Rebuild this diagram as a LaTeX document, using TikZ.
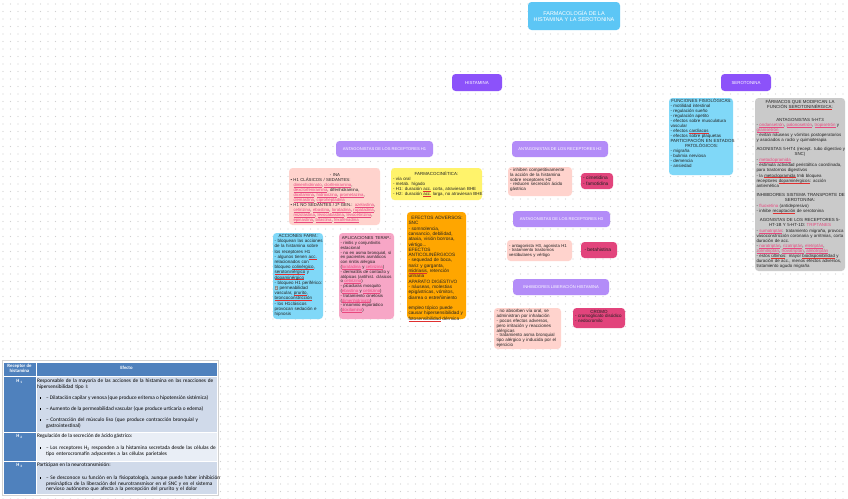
\documentclass[tikz,border=0pt]{standalone}
\usepackage{fontspec}
\setmainfont{Liberation Sans}
\newfontfamily\tabfont{Carlito}
\newfontfamily\djv{DejaVu Sans}
\definecolor{dotc}{HTML}{CFCFCF}
\definecolor{titleb}{HTML}{5CC6F5}
\definecolor{purp}{HTML}{8C52FA}
\definecolor{lav}{HTML}{B38CF8}
\definecolor{salm}{HTML}{FFD3CD}
\definecolor{yel}{HTML}{FFF36B}
\definecolor{ora}{HTML}{FFA600}
\definecolor{cya}{HTML}{80D8F8}
\definecolor{pnk}{HTML}{F7A6C6}
\definecolor{mag}{HTML}{E2447C}
\definecolor{gry}{HTML}{CACACA}
\definecolor{drugc}{HTML}{E8487E}
\definecolor{sqc}{HTML}{E03030}
\definecolor{txt}{HTML}{222222}
\definecolor{tblue}{HTML}{4F81BD}
\definecolor{tla}{HTML}{D0DAEA}
\definecolor{tlb}{HTML}{E9EEF6}
\definecolor{arrg}{HTML}{8A8A8A}
\newcommand\myl[1]{\mbox{#1}\par}
\newcommand\myc[1]{{\centering\mbox{#1}\par}}
\newcommand\myg[1]{\vspace{#1pt}}
\newcommand\ulc[2]{{\setbox0\hbox{#2}\leavevmode\rlap{\smash{\textcolor{#1}{\rule[-0.75pt]{\wd0}{0.28pt}}}}\box0}}
\newcommand\drug[1]{\textcolor{drugc}{\ulc{drugc}{#1}}}
\newcommand\dtx[1]{\textcolor{drugc}{#1}}
\newcommand\sq[1]{\ulc{sqc}{#1}}
\newcommand\fs[2]{\fontsize{#1}{#2}\selectfont}
\newcommand\darr{\smash{{\setlength\fboxsep{0.35pt}\colorbox{arrg}{\textcolor{white}{\djv\fontsize{3.6}{4}\selectfont ↓}}}}}
\tikzset{
  bx/.style={rectangle, rounded corners=3.5pt, inner sep=0pt, outer sep=0pt, anchor=north west, draw=none},
  hd/.style={bx, text=white, font=\fs{4.1}{5}, align=center},
  tx/.style={anchor=base west, inner sep=0pt, outer sep=0pt, align=left, text=txt},
  cell/.style={rectangle, inner sep=0pt, outer sep=0pt, anchor=north west, draw=white, line width=0.7pt},
  tt/.style={anchor=base west, inner sep=0pt, outer sep=0pt, align=left, text=black, font=\tabfont\fs{5.3}{6}},
  blt/.style={rectangle, fill=black, minimum size=1.3pt, inner sep=0pt, outer sep=0pt},
  dotrow/.style={dotc, line width=1.1pt, line cap=round, dash pattern=on 0pt off 7.5pt},
}
\begin{document}
\begin{tikzpicture}[x=1pt,y=-1pt]
\useasboundingbox (0,0) rectangle (848,498);
\fill[white] (0,0) rectangle (848,498);
% dot grid
\foreach \j in {0,...,66}{\draw[dotrow] (3,4+7.5*\j) -- (848,4+7.5*\j);}

% title and main headers
\node[bx, fill=titleb, minimum width=92pt, minimum height=28pt] (title) at (528,2) {};
\node[text=white, font=\fs{5.5}{6.6}, align=center, inner sep=0pt] (titlet) at (title.center) {FARMACOLOGÍA DE LA\\HISTAMINA Y LA SEROTONINA};
\node[hd, fill=purp, font=\fs{4.4}{5}, minimum width=50pt, minimum height=17pt] (hist) at (452,74) {HISTAMINA};
\node[hd, fill=purp, font=\fs{4.4}{5}, minimum width=50pt, minimum height=17pt] (sero) at (721,74) {SEROTONINA};

% sub headers
\node[hd, fill=lav, minimum width=97pt, minimum height=16pt] (hH1) at (336,141) {ANTAGONISTAS DE LOS RECEPTORES H1};
\node[hd, fill=lav, minimum width=96pt, minimum height=16pt] (hH2) at (512,141) {ANTAGONISTAS DE LOS RECEPTORES H2};
\node[hd, fill=lav, minimum width=97pt, minimum height=16pt] (hH3) at (513,211) {ANTAGONISTAS DE LOS RECEPTORES H3};
\node[hd, fill=lav, minimum width=96pt, minimum height=16pt] (hIN) at (513,279) {INHIBIDORES LIBERACIÓN HISTAMINA};

% INA box
\node[bx, fill=salm, minimum width=91pt, minimum height=57pt] (ina) at (289,168) {};
\node[tx, text width=89pt, font=\fs{4.3}{5}] (inat) at (290.5,176.3) {%
\myc{- INA}
\myl{• H1 CLÁSICOS / SEDANTES:}
\myl{\hspace*{3pt}\drug{dimenhidrinato}, \drug{clorfeniramina},}
\myl{\hspace*{3pt}\drug{dexclorfeniramina}, difenhidramina,}
\myl{\hspace*{3pt}\drug{doxilamina}, \drug{hidroxizina}, \drug{prometazina},}
\myl{\hspace*{3pt}\drug{clemastina}, \drug{ciproheptadina}}
\myl{• H1 NO SEDANTES / 2ª GEN.: \drug{azelastina},}
\myl{\hspace*{3pt}\drug{cetirizina}, \drug{ebastina}, \drug{loratadina}, \drug{rupatadina},}
\myl{\hspace*{3pt}\drug{mizolastina}, \drug{levocabastina}, \drug{levocetirizina},}
\myl{\hspace*{3pt}\drug{epinastina}, \drug{bilastina}, \drug{fexofenadina}}};

% Farmacocinetica
\node[bx, fill=yel, minimum width=91pt, minimum height=32pt] (farm) at (391,168) {};
\node[tx, text width=87pt, font=\fs{4.4}{5}] (farmt) at (393,175.6) {%
\myc{FARMACOCINÉTICA:}
\myl{- vía oral}
\myl{- metab. hígado}
\myl{- H1: duración \sq{acc.} corta, atraviesan BHE}
\myl{- H2: duración \sq{acc.} larga, no atraviesan BHE}};

% Efectos adversos
\node[bx, fill=ora, minimum width=59pt, minimum height=107pt] (efe) at (407,212) {};
\node[tx, text width=57pt, font=\fs{4.7}{5.3}] (efet) at (408.5,219.5) {%
\myc{EFECTOS ADVERSOS:}
\myl{SNC}
\myl{- somnolencia,}
\myl{cansancio, debilidad,}
\myl{ataxia, visión borrosa,}
\myl{vértigo...}
\myl{EFECTOS}
\myl{ANTICOLINÉRGICOS}
\myl{- sequedad de boca,}
\myl{nariz y garganta,}
\myl{\sq{midriasis}, retención}
\myl{urinaria}
\myl{APARATO DIGESTIVO}
\myl{- náuseas, molestias}
\myl{epigástricas, vómitos,}
\myl{diarrea o estreñimiento}
\myl{}
\myl{empleo tópico puede}
\myl{causar hipersensibilidad y}
\myl{\sq{fotosensibilidad} dérmica}};

% Acciones farm
\node[bx, fill=cya, minimum width=50pt, minimum height=86pt] (acc) at (273,233) {};
\node[tx, text width=48pt, font=\fs{4.5}{5.2}] (acct) at (274.5,237.4) {%
\myc{ACCIONES FARM.:}
\myl{- bloquean las acciones}
\myl{de la histamina sobre}
\myl{los receptores H1}
\myl{- algunos tienen \sq{acc.}}
\myl{relacionados con}
\myl{bloqueo \sq{colinérgico},}
\myl{\sq{serotoninérgico} y}
\myl{\sq{dopaminérgico}}
\myl{- bloqueo H1 periférico:}
\myl{\darr\ permeabilidad}
\myl{vascular, \sq{prurito},}
\myl{\sq{broncoconstricción}}
\myl{- los H1clásicos}
\myl{provocan sedación e}
\myl{hipnosis}};

% Aplicaciones terap
\node[bx, fill=pnk, minimum width=55pt, minimum height=86pt] (apl) at (339,233) {};
\node[tx, text width=52pt, font=\fs{4.3}{4.8}] (aplt) at (340.5,239.6) {%
\myc{APLICACIONES TERAP.:}
\myl{- rinitis y conjuntivitis}
\myl{estacional}
\myl{- no en asma bronquial, sí}
\myl{en pacientes asmáticos}
\myl{con rinitis alérgica}
\myl{(\drug{loratadina} y \drug{cetirizina})}
\myl{- dermatitis de contacto y}
\myl{atópicas (antihist. clásicos}
\myl{o \drug{cetirizina})}
\myl{- picaduras mosquito}
\myl{(\drug{ebastina} y \drug{cetirizina})}
\myl{- tratamiento cinetosis}
\myl{(\drug{dimenhidrinato})}
\myl{- insomnio esporádico}
\myl{(\drug{doxilamina})}};

% H2 branch
\node[bx, fill=salm, minimum width=64pt, minimum height=29pt] (h2b) at (508,167) {};
\node[tx, text width=62pt, font=\fs{4.5}{4.8}] (h2t) at (510,171.4) {%
\myl{- inhiben competitivamente}
\myl{la acción de la histamina}
\myl{sobre receptores H2}
\myl{- reducen secreción ácido}
\myl{gástrica}};
\node[bx, fill=mag, minimum width=32pt, minimum height=16pt] (cim) at (581,173) {};
\node[tx, text width=30pt, font=\fs{4.8}{5.7}] (cimt) at (583,179.8) {%
\myl{- cimetidina}
\myl{- famotidina}};

% H3 branch
\node[bx, fill=salm, minimum width=65pt, minimum height=21pt] (h3b) at (507,240) {};
\node[tx, text width=63pt, font=\fs{4.3}{4.7}] (h3t) at (509,247) {%
\myl{- antagonista H3, agonista H1}
\myl{- tratamiento trastornos}
\myl{vestibulares y vértigo}};
\node[bx, fill=mag, minimum width=36pt, minimum height=16pt] (beta) at (581,242) {};
\node[tx, font=\fs{4.9}{5.5}] (betat) at (584.5,251.5) {- betahistina};

% Inhibidores branch
\node[bx, fill=salm, minimum width=67pt, minimum height=41pt] (inb) at (494,308) {};
\node[tx, text width=64pt, font=\fs{4.5}{4.9}] (inbt) at (496.5,312.4) {%
\myl{- no absorben vía oral, se}
\myl{administran por inhalación}
\myl{- pocos efectos adversos,}
\myl{pero irritación y reacciones}
\myl{alérgicas}
\myl{- tratamiento asma bronquial}
\myl{tipo alérgico y inducida por el}
\myl{ejercicio}};
\node[bx, fill=mag, minimum width=52pt, minimum height=20pt] (cro) at (573,308) {};
\node[tx, text width=48pt, font=\fs{4.5}{4.8}] (crot) at (575,313.1) {%
\myc{CROMO}
\myl{- cromoglicato disódico}
\myl{- nedocromilo}};

% Serotonina: funciones
\node[bx, fill=cya, minimum width=64pt, minimum height=77pt] (fun) at (669,98) {};
\node[tx, text width=62pt, font=\fs{4.45}{5}] (funt) at (670.5,102.4) {%
\myc{FUNCIONES FISIOLÓGICAS:}
\myl{- motilidad intestinal}
\myl{- regulación sueño}
\myl{- regulación apetito}
\myl{- efectos sobre musculatura}
\myl{vascular}
\myl{- efectos \sq{cardíacos}}
\myl{- efectos sobre plaquetas}
\myc{PARTICIPACIÓN EN ESTADOS}
\myc{PATOLÓGICOS:}
\myl{- migraña}
\myl{- bulimia nerviosa}
\myl{- demencia}
\myl{- ansiedad}};

% Serotonina: farmacos
\node[bx, fill=gry, minimum width=90pt, minimum height=173pt] (frm) at (755,98) {};
\node[tx, text width=87pt, font=\fs{4.4}{5.05}] (frmt) at (756.5,103.4) {%
\myc{FÁRMACOS QUE MODIFICAN LA}
\myc{FUNCIÓN \sq{SEROTONINÉRGICA}:}
\myg{8}
\myc{ANTAGONISTAS 5-HT3}
\myl{- \drug{ondansetrón}, \drug{palonosetrón}, \drug{tropisetrón} y}
\myl{\drug{granisetrón}}
\myl{- evitan náuseas y vómitos postoperatorios}
\myl{y asociados a radio y quimioterapia}
\myg{4}
\myc{AGONISTAS 5-HT4 (recept. tubo digestivo y}
\myc{SNC)}
\myg{1}
\myl{- \drug{metoclopramida}}
\myl{- estimula actividad peristáltica coordinada,}
\myl{para trastornos digestivos}
\myl{- la \sq{metoclopramida} tmb bloquea}
\myl{receptores \sq{dopaminérgicos}: acción}
\myl{antiemética}
\myg{4}
\myc{INHIBIDORES SISTEMA TRANSPORTE DE}
\myc{SEROTONINA:}
\myg{1}
\myl{- \dtx{fluoxetina} (antidepresivo)}
\myl{- inhibe \sq{recaptación} de serotonina}
\myg{4}
\myc{AGONISTAS DE LOS RECEPTORES 5-}
\myc{HT-1B Y 5-HT-1D: \dtx{TRIPTANES}}
\myg{1}
\myl{- \drug{sumatriptán}: tratamiento migraña, provoca}
\myl{vasoconstricción coronaria y arritmias, corta}
\myl{duración de acc.}
\myl{- \drug{naratriptán}, \drug{rizatriptán}, \drug{eletriptán},}
\myl{\drug{zolmitriptán}, \drug{frovatriptán}, \drug{almotriptán}}
\myl{- estos \sq{últimos}: mayor \sq{biodisponibilidad} y}
\myl{duración de acc., menos efectos adversos,}
\myl{tratamiento agudo migraña}};

% ---------- table ----------
\draw[gray!35, line width=0.4pt] (2,360.5) rectangle (218,495.5);
\node[cell, fill=tblue, minimum width=33pt, minimum height=14.5pt] (c00) at (3,362) {};
\node[cell, fill=tblue, minimum width=181pt, minimum height=14.5pt] (c01) at (36,362) {};
\node[cell, fill=tblue, minimum width=33pt, minimum height=55.5pt] (c10) at (3,376.5) {};
\node[cell, fill=tla, minimum width=181pt, minimum height=55.5pt] (c11) at (36,376.5) {};
\node[cell, fill=tblue, minimum width=33pt, minimum height=29pt] (c20) at (3,432) {};
\node[cell, fill=tlb, minimum width=181pt, minimum height=29pt] (c21) at (36,432) {};
\node[cell, fill=tblue, minimum width=33pt, minimum height=33pt] (c30) at (3,461) {};
\node[cell, fill=tla, minimum width=181pt, minimum height=33pt] (c31) at (36,461) {};

\node[text=white, font=\tabfont\bfseries\fs{4.8}{5.2}, align=center, inner sep=0pt] (th1) at (19.5,368.6) {Receptor de\\histamina};
\node[text=white, font=\tabfont\bfseries\fs{4.8}{5.2}, inner sep=0pt] (th2) at (126.5,367.5) {Efecto};
\node[text=white, font=\tabfont\bfseries\fs{4.8}{5.2}, inner sep=0pt] (hr1) at (19.5,381) {H \textsubscript{1}};
\node[text=white, font=\tabfont\bfseries\fs{4.8}{5.2}, inner sep=0pt] (hr2) at (19.5,436) {H \textsubscript{2}};
\node[text=white, font=\tabfont\bfseries\fs{4.8}{5.2}, inner sep=0pt] (hr3) at (19.5,465) {H \textsubscript{3}};

\node[tt, text width=179pt] (t1a) at (37,382.5) {%
\myl{Responsable de la mayoría de las acciones de la histamina en las reacciones de}
\myl{hipersensibilidad tipo I:}};
\node[blt] (b1) at (40.5,398) {};
\node[tt] (t1b) at (46,399.6) {– Dilatación capilar y venosa (que produce eritema o hipotensión sistémica)};
\node[blt] (b2) at (40.5,409) {};
\node[tt] (t1c) at (46,410.6) {– Aumento de la permeabilidad vascular (que produce urticaria o edema)};
\node[blt] (b3) at (40.5,420) {};
\node[tt, text width=170pt] (t1d) at (46,421.6) {%
\myl{– Contracción del músculo liso (que produce contracción bronquial y}
\myl{gastrointestinal)}};

\node[tt] (t2a) at (37,437.6) {Regulación de la secreción de ácido gástrico:};
\node[blt] (b4) at (40.5,448) {};
\node[tt, text width=170pt] (t2b) at (46,449.6) {%
\myl{– Los receptores H\textsubscript{2} responden a la histamina secretada desde las células de}
\myl{tipo enterocromafín adyacentes a las células parietales}};

\node[tt] (t3a) at (37,466.6) {Participan en la neurotransmisión:};
\node[blt] (b5) at (40.5,478) {};
\node[tt, text width=170pt, font=\tabfont\fs{5.3}{5.6}] (t3b) at (46,479.6) {%
\myl{– Se desconoce su función en la fisiopatología, aunque puede haber inhibición}
\myl{presináptica de la liberación del neurotransmisor en el SNC y en el sistema}
\myl{nervioso autónomo que afecta a la percepción del prurito y el dolor}};
\end{tikzpicture}
\end{document}
